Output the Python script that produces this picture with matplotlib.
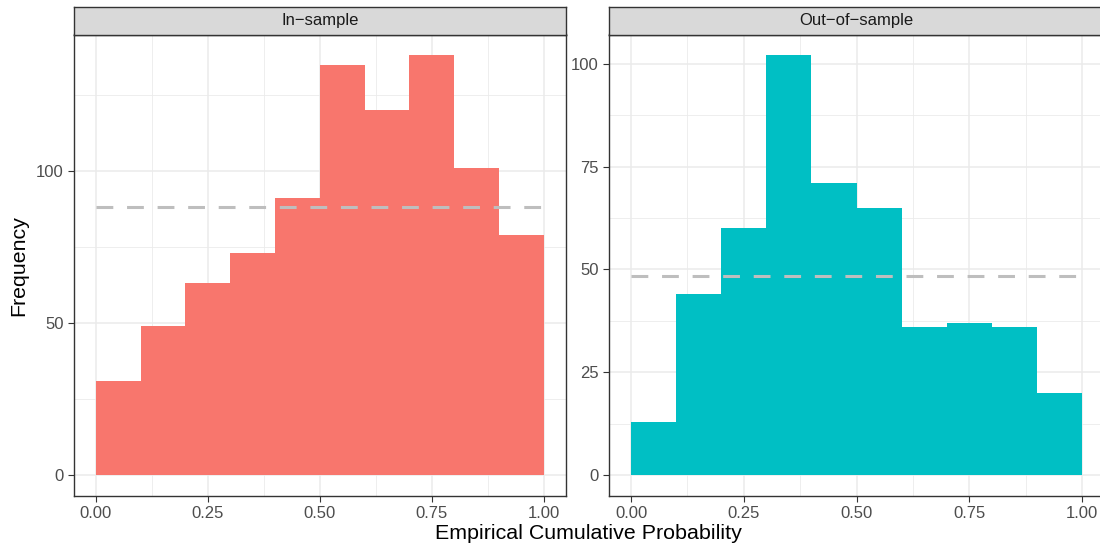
import matplotlib
matplotlib.use("Agg")
import matplotlib.pyplot as plt
import matplotlib.ticker as ticker
import numpy as np

plt.rcParams['font.family'] = ['Liberation Sans', 'DejaVu Sans']

bin_edges = [0.0, 0.1, 0.2, 0.3, 0.4, 0.5, 0.6, 0.7, 0.8, 0.9]
in_counts = [31, 49, 63, 73, 91, 135, 120, 138, 101, 79]
out_counts = [13, 44, 60, 102, 71, 65, 36, 37, 36, 20]
panels = ["In\u2212sample", "Out\u2212of\u2212sample"]
colors = ["#F8766D", "#00BFC4"]
x_ticks = [0.0, 0.25, 0.5, 0.75, 1.0]
y_ticks = [[0, 50, 100], [0, 25, 50, 75, 100]]
y_minor = [[25, 75, 125], [12.5, 37.5, 62.5, 87.5]]

fig = plt.figure(figsize=(11, 5.5), dpi=100)
W, H = 1100, 550
boxes = [(73.5, 492.5), (608.5, 496)]
top, bottom, strip_h = 34.5, 496, 28

for i, counts in enumerate([in_counts, out_counts]):
    x0, w = boxes[i]
    ax = fig.add_axes([x0 / W, (H - bottom) / H, w / W, (bottom - top) / H])
    ax.bar(bin_edges, counts, width=0.1, align='edge', color=colors[i], linewidth=0, zorder=2)
    mean = np.mean(counts)
    ax.plot([0, 1], [mean, mean], color='#BEBEBE', lw=2.2, dashes=(5.5, 4.5), zorder=3)
    ymax = max(counts)
    ax.set_xlim(-0.05, 1.05)
    ax.set_ylim(-0.05 * ymax, 1.05 * ymax)
    ax.set_xticks(x_ticks)
    ax.xaxis.set_major_formatter(ticker.FormatStrFormatter('%0.2f'))
    ax.set_xticks([0.125, 0.375, 0.625, 0.875], minor=True)
    ax.set_yticks(y_ticks[i])
    ax.set_yticks(y_minor[i], minor=True)
    ax.grid(which='major', color='#EBEBEB', lw=1.1, zorder=0)
    ax.grid(which='minor', color='#EBEBEB', lw=0.6, zorder=0)
    ax.set_axisbelow(True)
    ax.tick_params(which='major', labelsize=12, labelcolor='#4D4D4D', color='#333333', length=4, width=0.8, pad=3)
    ax.tick_params(which='minor', length=0)
    for s in ax.spines.values():
        s.set_color('#333333')
        s.set_linewidth(1.0)
    # facet strip
    sax = fig.add_axes([x0 / W, (H - top) / H, w / W, strip_h / H])
    sax.set_facecolor('#D9D9D9')
    sax.set_xticks([])
    sax.set_yticks([])
    for s in sax.spines.values():
        s.set_color('#333333')
        s.set_linewidth(1.0)
    sax.text(0.5, 0.5, panels[i], ha='center', va='center', fontsize=12, color='#1A1A1A', transform=sax.transAxes)

fig.text(0.5 * (73.5 + 1104) / W, 0.012, "Empirical Cumulative Probability", ha='center', va='bottom', fontsize=15.4)
fig.text(0.008, (H - (top + bottom) / 2) / H, "Frequency", ha='left', va='center', rotation=90, fontsize=15.4)

fig.savefig("out.png", dpi=100)
